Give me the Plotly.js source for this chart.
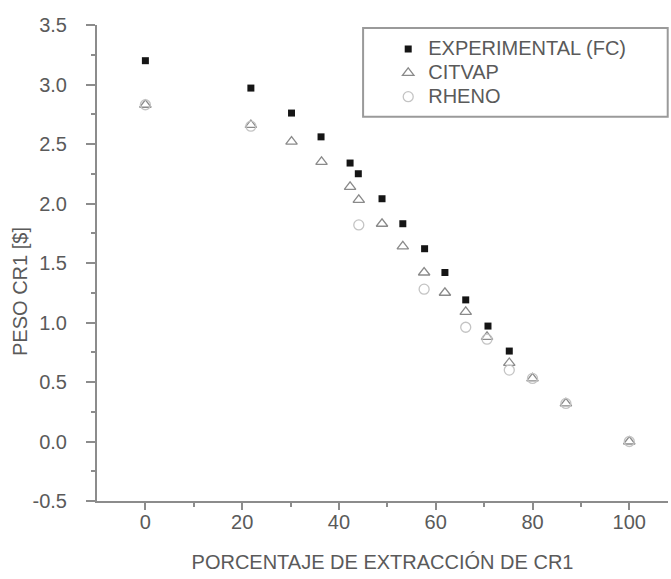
<!DOCTYPE html>
<html>
<head>
<meta charset="utf-8">
<script src="https://cdn.plot.ly/plotly-3.0.1.min.js"></script>
<style>
  html, body { margin: 0; padding: 0; background: #fff; }
  #chart { width: 671px; height: 579px; }
</style>
</head>
<body>
<div id="chart"></div>
<script>
// Extraction percentage (x) and CR1 weight (y) for each series
const expX = [0, 21.8, 30.2, 36.3, 42.3, 44.0, 48.9, 53.2, 57.7, 61.9, 66.2, 70.8, 75.2];
const expY = [3.20, 2.97, 2.76, 2.56, 2.34, 2.25, 2.04, 1.83, 1.62, 1.42, 1.19, 0.97, 0.76];

const citX = [0, 21.8, 30.2, 36.4, 42.3, 44.1, 48.9, 53.2, 57.6, 61.9, 66.2, 70.6, 75.2, 80.0, 86.9, 100];
const citY = [2.83, 2.66, 2.52, 2.35, 2.14, 2.03, 1.83, 1.64, 1.42, 1.25, 1.09, 0.88, 0.66, 0.53, 0.32, 0.0];

const rhX = [0, 21.8, 44.1, 57.6, 66.2, 70.6, 75.2, 80.0, 86.9, 100];
const rhY = [2.83, 2.65, 1.82, 1.28, 0.96, 0.86, 0.60, 0.53, 0.32, 0.0];

// Axis tick values and their printed labels
const xTickVals = [0, 20, 40, 60, 80, 100];
const xTickText = ["0", "20", "40", "60", "80", "100"];
const yTickVals = [-0.5, 0.0, 0.5, 1.0, 1.5, 2.0, 2.5, 3.0, 3.5];
const yTickText = ["-0.5", "0.0", "0.5", "1.0", "1.5", "2.0", "2.5", "3.0", "3.5"];

const seriesNames = ["EXPERIMENTAL (FC)", "CITVAP", "RHENO"];
const xTitle = "PORCENTAJE DE EXTRACCIÓN DE CR1";
const yTitle = "PESO CR1 [$]";

const FONT = "Liberation Sans, Arial, sans-serif";
const TXT = "#5a5a5a";
const AX = "#8c8c8c";

// legend rows are spaced from a 16px base size, names printed at 20px
const legendLabel = s => '<span style="font-size:20px">' + s + '</span>';

const traces = [
  {
    x: expX, y: expY, name: legendLabel(seriesNames[0]), legendgroup: "a",
    type: "scatter", mode: "markers",
    marker: { symbol: "square", size: 7, color: "#151515" }
  },
  {
    x: citX, y: citY, name: legendLabel(seriesNames[1]), legendgroup: "b",
    type: "scatter", mode: "markers",
    marker: { symbol: "triangle-up-open", size: 10, color: "#8a8a8a", line: { width: 1.3 } }
  },
  {
    x: rhX, y: rhY, name: legendLabel(seriesNames[2]), legendgroup: "c",
    type: "scatter", mode: "markers",
    marker: { symbol: "circle-open", size: 10, color: "#c4c4c4", line: { width: 1.3 } }
  }
];

const axisCommon = {
  showgrid: false, zeroline: false,
  showline: true, linecolor: AX, linewidth: 2,
  ticks: "outside", tickwidth: 2, tickcolor: AX,
  tickfont: { family: FONT, size: 20, color: TXT },
  tickmode: "array"
};

const layout = {
  width: 671, height: 579,
  margin: { l: 97, r: 3, t: 25, b: 78 },
  paper_bgcolor: "#fff", plot_bgcolor: "#fff",
  font: { family: FONT, size: 20, color: TXT },
  showlegend: true,
  xaxis: Object.assign({}, axisCommon, {
    range: [-10, 108],
    tickvals: xTickVals, ticktext: xTickText, ticklen: 7,
    ticklabelstandoff: -5,
    minor: { ticks: "outside", ticklen: 4, tickwidth: 2, tickcolor: AX, tickmode: "array", tickvals: [10, 30, 50, 70, 90] },
    title: { text: xTitle, font: { family: FONT, size: 20, color: TXT }, standoff: 23 }
  }),
  yaxis: Object.assign({}, axisCommon, {
    range: [-0.5, 3.5],
    tickvals: yTickVals, ticktext: yTickText, ticklen: 9,
    ticklabelstandoff: 15,
    minor: { ticks: "outside", ticklen: 4, tickwidth: 2, tickcolor: AX, tickmode: "linear", tick0: -0.5, dtick: 0.25 },
    title: { text: "" }
  }),
  legend: {
    x: 0.51, y: 0.985, xanchor: "left", yanchor: "top",
    bgcolor: "rgba(0,0,0,0)", borderwidth: 0,
    traceorder: "grouped", tracegroupgap: 0,
    font: { family: FONT, size: 16, color: TXT }
  },
  shapes: [{
    type: "rect", xref: "paper", yref: "paper",
    x0: 0.466, x1: 0.9995, y0: 0.807, y1: 0.9937,
    line: { color: "#9a9a9a", width: 2 }, fillcolor: "rgba(0,0,0,0)"
  }],
  annotations: [{
    text: yTitle, xref: "paper", yref: "paper",
    x: -0.135, y: 0.441, xanchor: "center", yanchor: "middle",
    textangle: -90, showarrow: false,
    font: { family: FONT, size: 20, color: TXT }
  }]
};

Plotly.newPlot("chart", traces, layout, { staticPlot: true, displayModeBar: false });
</script>
</body>
</html>
